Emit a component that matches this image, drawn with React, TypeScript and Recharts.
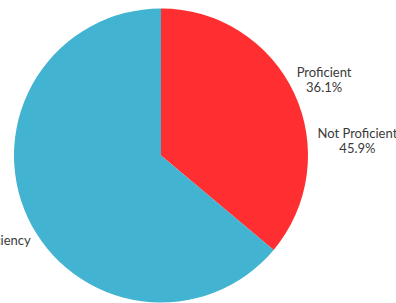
import { PieChart, Pie, Cell } from 'recharts'

const categories = ['Proficient', 'Below Proficiency']
const values = [36.1, 63.9]
const colors = ['#FF2E30', '#42B3D0']
const labelLines = [['Proficient', '36.1%'], ['Below Proficiency']]
const labelRadius = [180, 200]

// extra note printed beside the red slice in the original
const noteLines = ['Not Proficient', '45.9%']
const noteAngle = 4.4
const noteRadius = 197

const data = categories.map((name, i) => ({ name, value: values[i] }))

const RAD = Math.PI / 180
const textStyle = { fontFamily: 'Lato, sans-serif', fontSize: 13, fill: '#3a3a3a' }

function TextBlock({ x, y, lines }: { x: number; y: number; lines: string[] }) {
  const lh = 15
  const top = y - ((lines.length - 1) * lh) / 2
  return (
    <text x={x} y={top} textAnchor="middle" dominantBaseline="central" style={textStyle}>
      {lines.map((l, i) => (
        <tspan key={i} x={x} y={top + i * lh}>
          {l}
        </tspan>
      ))}
    </text>
  )
}

function renderLabel(props: any) {
  const { cx, cy, midAngle, index } = props
  const r = labelRadius[index]
  const x = cx + r * Math.cos(-midAngle * RAD)
  const y = cy + r * Math.sin(-midAngle * RAD)
  return (
    <g key={`lbl-${index}`}>
      <TextBlock x={x} y={y} lines={labelLines[index]} />
      {index === 0 && (
        <TextBlock
          x={cx + noteRadius * Math.cos(-noteAngle * RAD)}
          y={cy + noteRadius * Math.sin(-noteAngle * RAD)}
          lines={noteLines}
        />
      )}
    </g>
  )
}

export default function App() {
  return (
    <div style={{ position: 'absolute', left: 0, top: 0, width: 396, height: 303, background: '#fff' }}>
      <PieChart width={396} height={303} margin={{ top: 0, right: 0, bottom: 0, left: 0 }}>
        <Pie
          data={data}
          dataKey="value"
          nameKey="name"
          cx={161}
          cy={155.5}
          outerRadius={147}
          startAngle={90}
          endAngle={-270}
          stroke="none"
          label={renderLabel}
          labelLine={false}
          isAnimationActive={false}
        >
          {data.map((d, i) => (
            <Cell key={d.name} fill={colors[i]} />
          ))}
        </Pie>
      </PieChart>
    </div>
  )
}
